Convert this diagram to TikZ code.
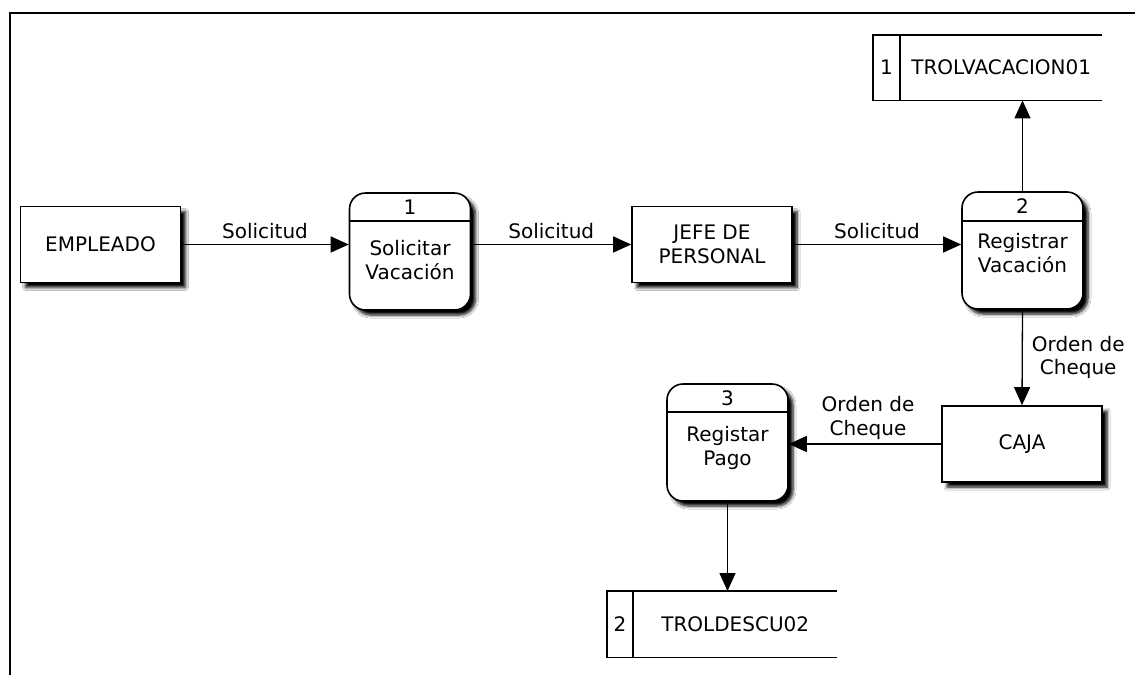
\documentclass[tikz,border=0pt]{standalone}
\usepackage{fontspec}
\setmainfont{DejaVu Sans}
\usetikzlibrary{arrows.meta,shadows.blur,calc}

\begin{document}
\begin{tikzpicture}[x=1pt,y=-1pt,
  font=\fontsize{20}{23.5}\selectfont,
  shade/.style={blur shadow={shadow xshift=5pt, shadow yshift=-5pt,
      shadow blur radius=3pt, shadow blur steps=6, shadow opacity=100}},
  ent/.style={draw, line width=1.6pt, fill=white, shade, align=center,
      minimum width=160pt, minimum height=76pt, inner sep=0pt},
  proc/.style={draw, line width=1.6pt, fill=white, shade, rounded corners=16pt,
      minimum width=121pt, minimum height=117pt, inner sep=0pt},
  txt/.style={align=center, inner sep=0pt},
  storebox/.style={minimum height=65pt, inner sep=0pt, anchor=north west},
  storeline/.style={line width=1.5pt},
  flow/.style={line width=1.3pt, -{Triangle[length=18pt,width=16pt]}},
  lab/.style={align=center, inner sep=1pt}
]
\useasboundingbox (0,0) rectangle (1135,675);
\fill[white] (0,0) rectangle (1135,675);

% outer frame (top and left edges)
\draw[line width=2.8pt] (10,675) -- (10,13) -- (1135,13);

% external entities
\node[ent] (emp)  at (100.5,244.5) {EMPLEADO};
\node[ent] (jefe) at (712,244.5)   {JEFE DE\\PERSONAL};
\node[ent] (caja) at (1022,444)    {CAJA};

% processes: rounded box, header with number, body with name
\node[proc] (p1) at (410,251.5) {};
\draw[line width=1.5pt] ($(p1.north west)+(0,29)$) -- ($(p1.north east)+(0,29)$);
\node[txt] (p1n) at ($(p1.north)+(0,15)$) {1};
\node[txt] (p1t) at ($(p1.north)+(0,68)$) {Solicitar\\Vacación};

\node[proc] (p2) at (1022.5,250.5) {};
\draw[line width=1.5pt] ($(p2.north west)+(0,30)$) -- ($(p2.north east)+(0,30)$);
\node[txt] (p2n) at ($(p2.north)+(0,15)$) {2};
\node[txt] (p2t) at ($(p2.north)+(0,62)$) {Registrar\\Vacación};

\node[proc] (p3) at (727.5,442.5) {};
\draw[line width=1.5pt] ($(p3.north west)+(0,29)$) -- ($(p3.north east)+(0,29)$);
\node[txt] (p3n) at ($(p3.north)+(0,15)$) {3};
\node[txt] (p3t) at ($(p3.north)+(0,65)$) {Registar\\Pago};

% data stores: open on the right, number cell on the left
\node[storebox, minimum width=229pt] (s1) at (873,35) {};
\draw[storeline] (s1.north east) -- (s1.north west) -- (s1.south west) -- (s1.south east);
\draw[storeline] ($(s1.north west)+(27,0)$) -- ($(s1.south west)+(27,0)$);
\node[txt] (s1n) at ($(s1.west)+(13.5,0)$) {1};
\node[txt] (s1t) at ($(s1.center)+(13.5,0)$) {TROLVACACION01};

\node[storebox, minimum width=230pt, minimum height=66pt] (s2) at (607,591) {};
\draw[storeline] (s2.north east) -- (s2.north west) -- (s2.south west) -- (s2.south east);
\draw[storeline] ($(s2.north west)+(26,0)$) -- ($(s2.south west)+(26,0)$);
\node[txt] (s2n) at ($(s2.west)+(13,0)$) {2};
\node[txt] (s2t) at ($(s2.center)+(13,0)$) {TROLDESCU02};

% data flows
\draw[flow] (emp.east) -- (emp.east -| p1.west)
  node[lab, midway, above=4pt] (f1) {Solicitud};
\draw[flow] (p1.east |- jefe.west) -- (jefe.west)
  node[lab, midway, above=4pt] (f2) {Solicitud};
\draw[flow] (jefe.east) -- (jefe.east -| p2.west)
  node[lab, midway, above=4pt] (f3) {Solicitud};
\draw[flow] (p2.north) -- (p2.north |- s1.south);
\draw[flow] (p2.south) -- (caja.north)
  node[lab, midway, right=8pt] (f4) {Orden de\\Cheque};
\draw[flow] (caja.west) -- (caja.west -| p3.east)
  node[lab, midway, above=3pt, xshift=3pt] (f5) {Orden de\\Cheque};
\draw[flow] (p3.south) -- (p3.south |- s2.north);
\end{tikzpicture}
\end{document}
